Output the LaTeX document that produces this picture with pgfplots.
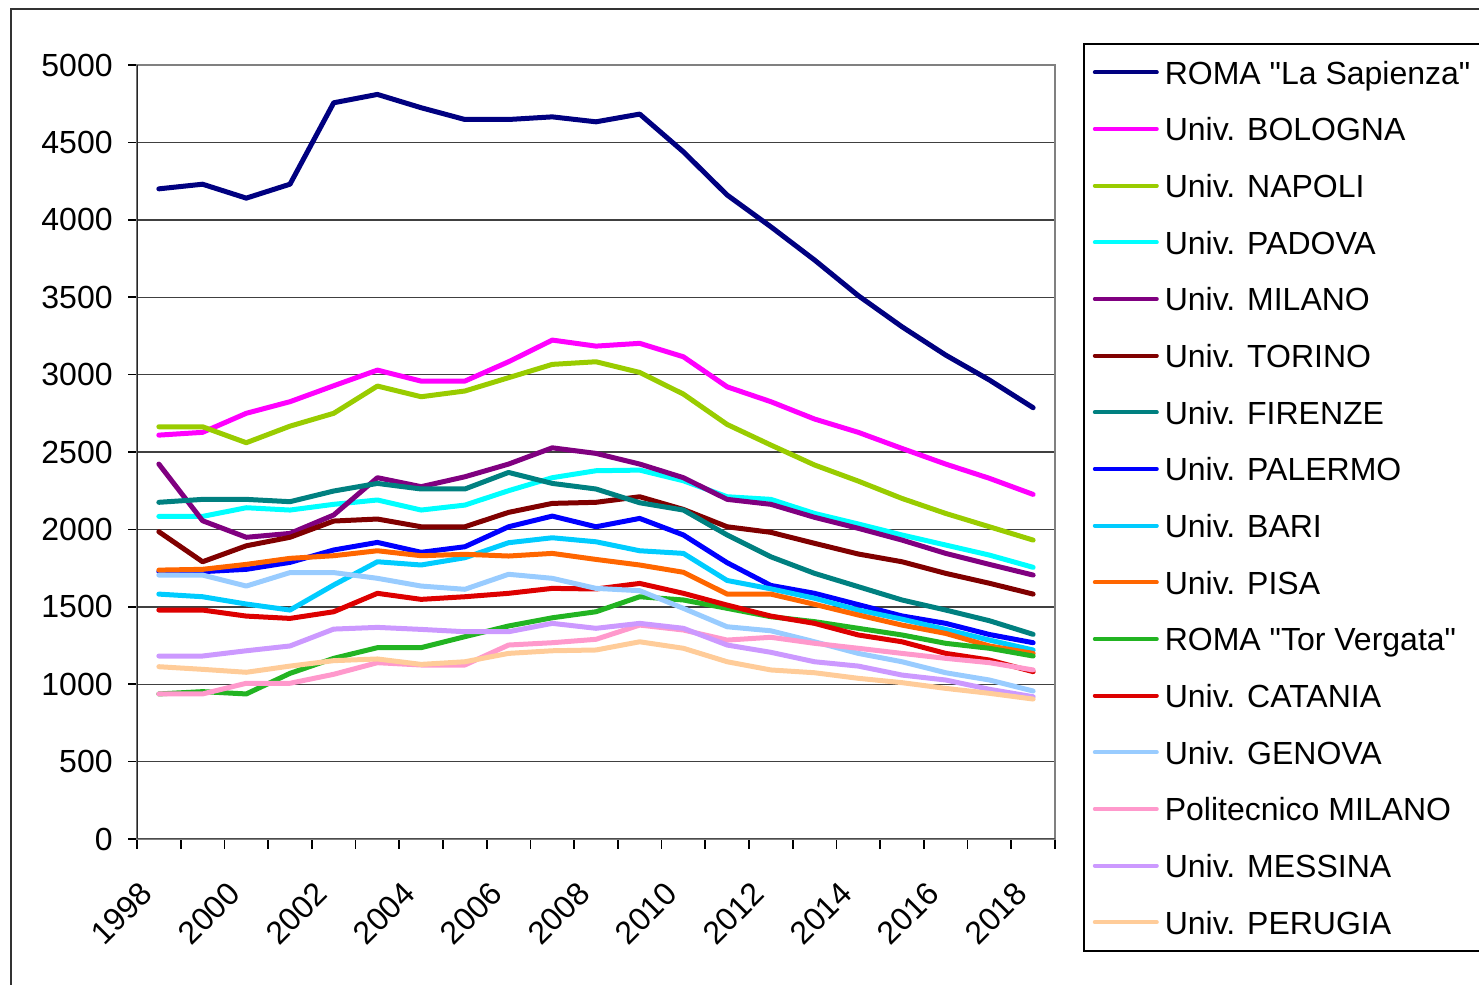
\documentclass[border=0pt]{standalone}
\usepackage{pgfplots}
\pgfplotsset{compat=1.18}
\usepackage{fontspec}
\setmainfont{Liberation Sans}[Ligatures=TeXOff]
\definecolor{cSap}{HTML}{000080}
\definecolor{cBol}{HTML}{FF00FF}
\definecolor{cNap}{HTML}{99CC00}
\definecolor{cPad}{HTML}{00FFFF}
\definecolor{cMil}{HTML}{800080}
\definecolor{cTor}{HTML}{800000}
\definecolor{cFir}{HTML}{008080}
\definecolor{cPal}{HTML}{0000FF}
\definecolor{cBar}{HTML}{00CCFF}
\definecolor{cPis}{HTML}{FF6600}
\definecolor{cTV}{HTML}{22B422}
\definecolor{cCat}{HTML}{DD0000}
\definecolor{cGen}{HTML}{99CCFF}
\definecolor{cPol}{HTML}{FF99CC}
\definecolor{cMes}{HTML}{CC99FF}
\definecolor{cPer}{HTML}{FFCC99}
\begin{document}
\begin{tikzpicture}
\begin{axis}[
  scale only axis, width=459pt, height=387pt,
  xmin=1997.5, xmax=2018.5, ymin=0, ymax=5000,
  font=\fontsize{16}{19.2}\selectfont,
  xtick={1998,2000,...,2018},
  minor xtick={1997.5,1998.5,...,2018.5},
  ytick={0,500,...,5000},
  tick align=outside, tick pos=left,
  major tick length=4.5pt, minor tick length=5pt,
  major x tick style={draw=none},
  tick style={black, line width=0.8pt},
  minor x tick style={black, line width=0.8pt},
  /pgf/number format/assume math mode=true,
  /pgf/number format/set thousands separator={},
  xticklabel style={rotate=45, anchor=east, inner sep=0pt, xshift=-18.3pt, yshift=-9.9pt},
  yticklabel style={anchor=east, inner sep=0pt, xshift=-7.5pt},
  ymajorgrids, grid style={draw=black!75, line width=0.7pt},
  axis line style={draw=black!50, line width=1.2pt},
  every axis plot/.append style={line width=2.5pt, line join=round, line cap=round},
  legend cell align=left,
  legend image code/.code={\draw[line width=2pt, line cap=round] (0pt,0pt) -- (31pt,0pt);},
  legend style={at={(axis description cs:1.0305,1.0284)}, anchor=north west,
    draw=black, line width=0.8pt, fill=white, inner xsep=4.5pt, inner ysep=3pt,
    row sep=5.83pt, column sep=3pt,
    nodes={inner sep=0pt, text height=17.25pt, text depth=5.25pt},
    font=\fontsize{16}{19.2}\selectfont},
]
\addplot[cSap] coordinates {(1998,4200)(1999,4230)(2000,4140)(2001,4230)(2002,4756)(2003,4810)(2004,4724)(2005,4648)(2006,4648)(2007,4665)(2008,4633)(2009,4683)(2010,4439)(2011,4160)(2012,3955)(2013,3740)(2014,3510)(2015,3309)(2016,3126)(2017,2965)(2018,2786)};
\addlegendentry{ROMA "La Sapienza"}
\addplot[cBol] coordinates {(1998,2609)(1999,2627)(2000,2750)(2001,2825)(2002,2928)(2003,3029)(2004,2958)(2005,2958)(2006,3083)(2007,3223)(2008,3184)(2009,3202)(2010,3115)(2011,2921)(2012,2825)(2013,2713)(2014,2627)(2015,2523)(2016,2422)(2017,2330)(2018,2226)};
\addlegendentry{Univ. BOLOGNA}
\addplot[cNap] coordinates {(1998,2663)(1999,2663)(2000,2560)(2001,2667)(2002,2750)(2003,2926)(2004,2857)(2005,2894)(2006,2980)(2007,3066)(2008,3083)(2009,3014)(2010,2874)(2011,2678)(2012,2545)(2013,2416)(2014,2312)(2015,2200)(2016,2103)(2017,2017)(2018,1931)};
\addlegendentry{Univ. NAPOLI}
\addplot[cPad] coordinates {(1998,2084)(1999,2084)(2000,2140)(2001,2125)(2002,2162)(2003,2190)(2004,2125)(2005,2157)(2006,2250)(2007,2334)(2008,2379)(2009,2383)(2010,2314)(2011,2211)(2012,2194)(2013,2103)(2014,2035)(2015,1964)(2016,1899)(2017,1834)(2018,1755)};
\addlegendentry{Univ. PADOVA}
\addplot[cMil] coordinates {(1998,2422)(1999,2056)(2000,1949)(2001,1974)(2002,2093)(2003,2334)(2004,2276)(2005,2340)(2006,2422)(2007,2527)(2008,2491)(2009,2422)(2010,2334)(2011,2194)(2012,2162)(2013,2078)(2014,2007)(2015,1931)(2016,1845)(2017,1774)(2018,1705)};
\addlegendentry{Univ. MILANO}
\addplot[cTor] coordinates {(1998,1985)(1999,1791)(2000,1894)(2001,1949)(2002,2054)(2003,2067)(2004,2017)(2005,2017)(2006,2110)(2007,2168)(2008,2175)(2009,2211)(2010,2129)(2011,2017)(2012,1981)(2013,1910)(2014,1841)(2015,1791)(2016,1716)(2017,1652)(2018,1582)};
\addlegendentry{Univ. TORINO}
\addplot[cFir] coordinates {(1998,2175)(1999,2194)(2000,2194)(2001,2179)(2002,2248)(2003,2297)(2004,2261)(2005,2261)(2006,2368)(2007,2297)(2008,2261)(2009,2172)(2010,2125)(2011,1964)(2012,1823)(2013,1716)(2014,1630)(2015,1544)(2016,1479)(2017,1410)(2018,1322)};
\addlegendentry{Univ. FIRENZE}
\addplot[cPal] coordinates {(1998,1727)(1999,1727)(2000,1742)(2001,1787)(2002,1867)(2003,1916)(2004,1852)(2005,1888)(2006,2017)(2007,2086)(2008,2017)(2009,2071)(2010,1964)(2011,1785)(2012,1638)(2013,1587)(2014,1514)(2015,1441)(2016,1393)(2017,1321)(2018,1268)};
\addlegendentry{Univ. PALERMO}
\addplot[cBar] coordinates {(1998,1582)(1999,1565)(2000,1518)(2001,1479)(2002,1641)(2003,1791)(2004,1770)(2005,1817)(2006,1914)(2007,1946)(2008,1920)(2009,1862)(2010,1845)(2011,1670)(2012,1616)(2013,1555)(2014,1479)(2015,1420)(2016,1354)(2017,1285)(2018,1221)};
\addlegendentry{Univ. BARI}
\addplot[cPis] coordinates {(1998,1737)(1999,1742)(2000,1774)(2001,1813)(2002,1830)(2003,1862)(2004,1830)(2005,1839)(2006,1828)(2007,1845)(2008,1806)(2009,1770)(2010,1723)(2011,1582)(2012,1582)(2013,1516)(2014,1447)(2015,1382)(2016,1328)(2017,1247)(2018,1199)};
\addlegendentry{Univ. PISA}
\addplot[cTV] coordinates {(1998,937)(1999,952)(2000,937)(2001,1070)(2002,1167)(2003,1236)(2004,1236)(2005,1307)(2006,1376)(2007,1429)(2008,1468)(2009,1565)(2010,1544)(2011,1490)(2012,1436)(2013,1404)(2014,1361)(2015,1318)(2016,1264)(2017,1232)(2018,1182)};
\addlegendentry{ROMA "Tor Vergata"}
\addplot[cCat] coordinates {(1998,1479)(1999,1479)(2000,1440)(2001,1425)(2002,1468)(2003,1587)(2004,1548)(2005,1565)(2006,1587)(2007,1619)(2008,1615)(2009,1651)(2010,1587)(2011,1511)(2012,1440)(2013,1393)(2014,1318)(2015,1274)(2016,1199)(2017,1156)(2018,1081)};
\addlegendentry{Univ. CATANIA}
\addplot[cGen] coordinates {(1998,1705)(1999,1705)(2000,1634)(2001,1721)(2002,1721)(2003,1684)(2004,1634)(2005,1613)(2006,1710)(2007,1684)(2008,1619)(2009,1604)(2010,1490)(2011,1371)(2012,1345)(2013,1274)(2014,1199)(2015,1145)(2016,1074)(2017,1027)(2018,956)};
\addlegendentry{Univ. GENOVA}
\addplot[cPol] coordinates {(1998,937)(1999,937)(2000,1006)(2001,1006)(2002,1064)(2003,1139)(2004,1124)(2005,1124)(2006,1253)(2007,1268)(2008,1290)(2009,1382)(2010,1350)(2011,1285)(2012,1303)(2013,1264)(2014,1232)(2015,1199)(2016,1167)(2017,1139)(2018,1092)};
\addlegendentry{Politecnico MILANO}
\addplot[cMes] coordinates {(1998,1182)(1999,1182)(2000,1216)(2001,1247)(2002,1356)(2003,1367)(2004,1354)(2005,1339)(2006,1339)(2007,1393)(2008,1361)(2009,1393)(2010,1361)(2011,1253)(2012,1206)(2013,1145)(2014,1117)(2015,1059)(2016,1027)(2017,967)(2018,919)};
\addlegendentry{Univ. MESSINA}
\addplot[cPer] coordinates {(1998,1113)(1999,1096)(2000,1077)(2001,1117)(2002,1152)(2003,1163)(2004,1128)(2005,1145)(2006,1199)(2007,1216)(2008,1221)(2009,1274)(2010,1232)(2011,1145)(2012,1092)(2013,1074)(2014,1038)(2015,1010)(2016,973)(2017,941)(2018,904)};
\addlegendentry{Univ. PERUGIA}
\draw[black!85, line width=1pt] (rel axis cs:0,0) -- (rel axis cs:0,1);
\draw[black!70, line width=1pt] (rel axis cs:0,0) -- (rel axis cs:1,0);
\end{axis}
\draw[black!80, line width=1pt] (-63pt,-80pt) -- (-63pt,415pt) -- (680pt,415pt);
\pgfresetboundingbox
\path[use as bounding box] (-68.5pt,-73pt) rectangle (671pt,419.5pt);
\end{tikzpicture}
\end{document}
